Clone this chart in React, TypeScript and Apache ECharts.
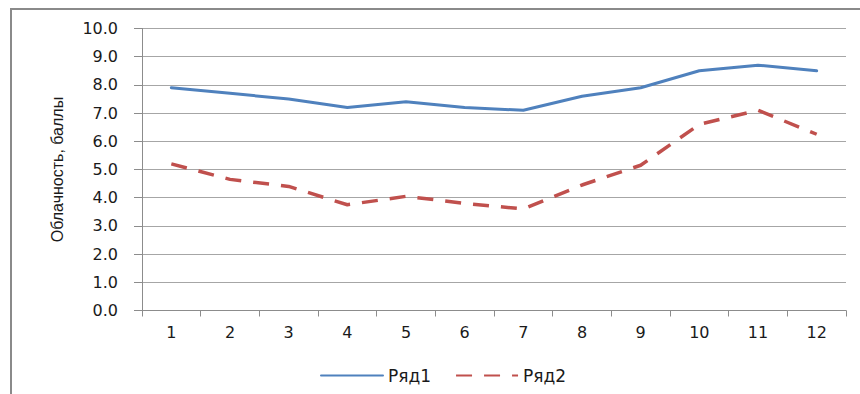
import React, { useEffect, useRef } from "react";
import * as echarts from "echarts";

const categories = ["1", "2", "3", "4", "5", "6", "7", "8", "9", "10", "11", "12"];
const series1Name = "Ряд1";
const series2Name = "Ряд2";
const series1 = [7.9, 7.7, 7.5, 7.2, 7.4, 7.2, 7.1, 7.6, 7.9, 8.5, 8.7, 8.5];
const series2 = [5.2, 4.65, 4.4, 3.75, 4.05, 3.8, 3.6, 4.45, 5.15, 6.6, 7.1, 6.25];
const yAxisName = "Облачность, баллы";

export default function App() {
  const ref = useRef<HTMLDivElement>(null);

  useEffect(() => {
    if (!ref.current) return;
    const chart = echarts.init(ref.current, null, { renderer: "svg" });
    const axisGray = "#8c8c8c";
    const textColor = "#1a1a1a";
    chart.setOption({
      animation: false,
      backgroundColor: "#ffffff",
      graphic: [
        {
          type: "rect",
          shape: { x: 11, y: 9, width: 1000, height: 600 },
          style: { fill: "none", stroke: "#8a8a8a", lineWidth: 2 },
          silent: true,
        },
      ],
      grid: { left: 142, right: 14, top: 28.5, bottom: 83.5, containLabel: false },
      legend: {
        left: 315,
        top: 362,
        itemWidth: 62,
        itemHeight: 20,
        itemGap: 24,
        itemStyle: { opacity: 0 },
        textStyle: { fontFamily: "DejaVu Sans", fontSize: 17, color: textColor },
        data: [series1Name, series2Name],
      },
      xAxis: {
        type: "category",
        data: categories,
        boundaryGap: true,
        axisLine: { show: true, lineStyle: { color: axisGray, width: 1 } },
        axisTick: { show: true, length: 6, lineStyle: { color: axisGray } },
        axisLabel: { fontFamily: "DejaVu Sans", fontSize: 16, color: textColor, margin: 14 },
        splitLine: { show: false },
      },
      yAxis: {
        type: "value",
        min: 0,
        max: 10,
        interval: 1,
        name: yAxisName,
        nameLocation: "middle",
        nameGap: 77,
        nameRotate: 90,
        nameTextStyle: { fontFamily: "Liberation Sans", fontSize: 16, color: textColor },
        axisLine: { show: true, lineStyle: { color: axisGray, width: 1 } },
        axisTick: { show: true, length: 8, lineStyle: { color: axisGray } },
        axisLabel: {
          fontFamily: "DejaVu Sans",
          fontSize: 16,
          color: textColor,
          margin: 24,
          formatter: (v: number) => v.toFixed(1),
        },
        splitLine: { show: true, lineStyle: { color: "#a6a6a6", width: 1 } },
      },
      series: [
        {
          name: series1Name,
          type: "line",
          data: series1,
          symbol: "none",
          itemStyle: { color: "#4f81bd" },
          lineStyle: { color: "#4f81bd", width: 3, join: "round", cap: "round" },
        },
        {
          name: series2Name,
          type: "line",
          data: series2,
          symbol: "none",
          itemStyle: { color: "#c0504d" },
          lineStyle: { color: "#c0504d", width: 3.5, type: [16, 12], join: "round" },
        },
      ],
    });
    return () => chart.dispose();
  }, []);

  return (
    <div
      ref={ref}
      style={{ position: "fixed", left: 0, top: 0, width: 860, height: 394 }}
    />
  );
}
